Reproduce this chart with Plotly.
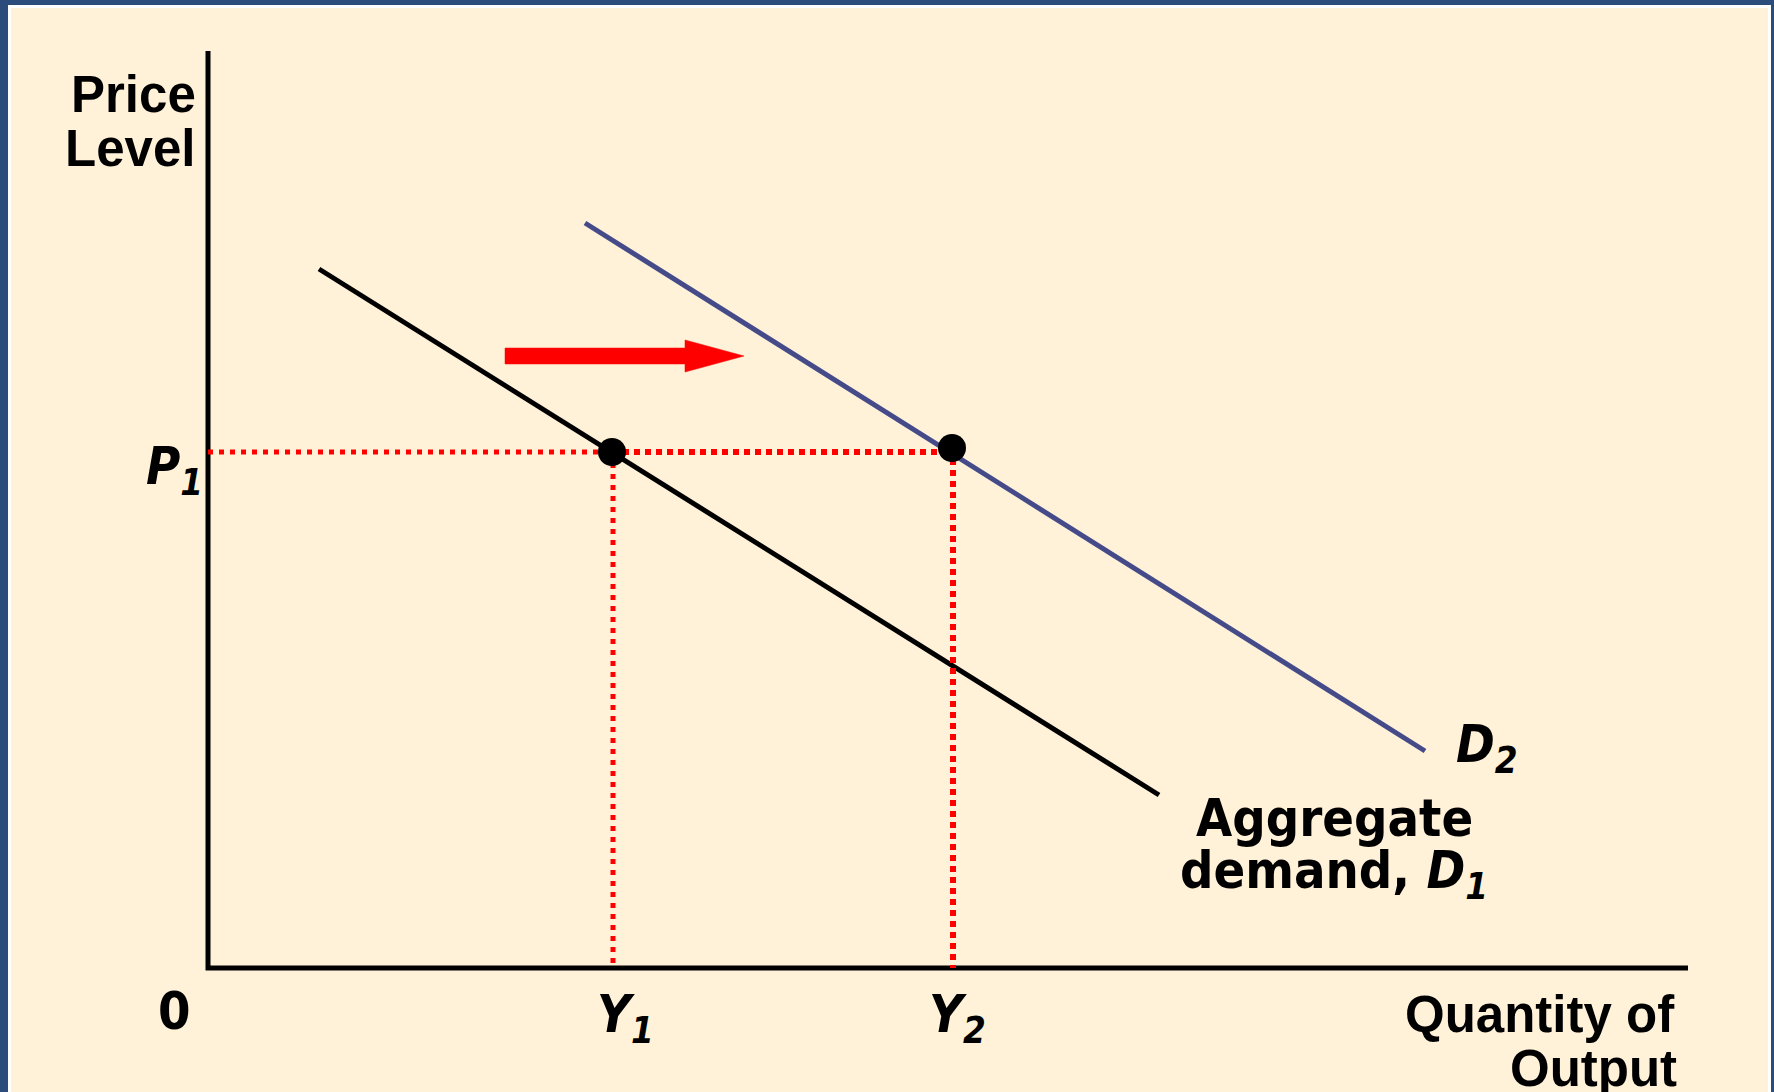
import plotly.graph_objects as go

# ---- data (chart units: 1 unit = 10 px, origin at the axes corner) ----
d1_x = [11.1, 95.1]
d1_y = [69.9, 17.3]
d2_x = [37.7, 121.7]
d2_y = [74.5, 21.7]
eq_x = [40.4, 74.4]
eq_y = [51.6, 52.0]
p1_level = 51.6
y1_level = 40.5
y2_level = 74.5
axis_x_max = 148.0
axis_y_max = 91.7
arrow_x = [29.7, 53.6]
arrow_y = 61.2

# ---- style ----
W, H = 1774, 1092
OX, OY, PX = 208, 968, 10.0
BLUE = "#2C4D7C"
CREAM = "#FFF2D9"
RED = "#FF0000"
D2C = "#454A89"
ARIAL = "Liberation Sans, Arial, sans-serif"
VERD = "DejaVu Sans Condensed, DejaVu Sans, Verdana, sans-serif"

fig = go.Figure()

# axes
fig.add_trace(go.Scatter(x=[0, 0, axis_x_max], y=[axis_y_max, 0, 0], mode="lines",
                         line=dict(color="black", width=5), hoverinfo="skip"))
# D1, D2
fig.add_trace(go.Scatter(x=d1_x, y=d1_y, mode="lines", line=dict(color="black", width=5)))
fig.add_trace(go.Scatter(x=d2_x, y=d2_y, mode="lines", line=dict(color=D2C, width=5)))

dot = "5px,6px"
sq = "6px,5px"
# dotted guides
fig.add_trace(go.Scatter(x=[0, eq_x[0]], y=[p1_level, p1_level], mode="lines",
                         line=dict(color=RED, width=5, dash=dot)))
fig.add_trace(go.Scatter(x=[eq_x[0], eq_x[1]], y=[p1_level, p1_level], mode="lines",
                         line=dict(color=RED, width=6, dash=sq)))
fig.add_trace(go.Scatter(x=[y1_level, y1_level], y=[eq_y[0], 0], mode="lines",
                         line=dict(color=RED, width=5, dash=dot)))
fig.add_trace(go.Scatter(x=[y2_level, y2_level], y=[eq_y[1], 0], mode="lines",
                         line=dict(color=RED, width=6, dash=sq)))

# equilibrium points
fig.add_trace(go.Scatter(x=eq_x, y=eq_y, mode="markers",
                         marker=dict(color="black", size=28, line=dict(width=0))))

# shift arrow (polygon built from arrow start/end)
shaft_half, head_half, head_len = 0.8, 1.6, 5.9
x0, x1 = arrow_x
xb = x1 - head_len
ax = [x0, xb, xb, x1, xb, xb, x0, x0]
ay = [arrow_y + shaft_half, arrow_y + shaft_half, arrow_y + head_half, arrow_y,
      arrow_y - head_half, arrow_y - shaft_half, arrow_y - shaft_half, arrow_y + shaft_half]
fig.add_trace(go.Scatter(x=ax, y=ay, mode="lines", fill="toself", fillcolor=RED,
                         line=dict(color=RED, width=0.5)))

def ann(text, x, y, xanchor, font, size, yanchor="middle"):
    fig.add_annotation(x=x, y=y, xref="x", yref="y", text=text, showarrow=False,
                       xanchor=xanchor, yanchor=yanchor, align=xanchor if xanchor != "center" else "center",
                       font=dict(family=font, size=size, color="black"))

ann("<b>Price</b>", -1.0, 87.4, "right", ARIAL, 51)
ann("<b>Level</b>", -1.1, 82.0, "right", ARIAL, 51)
ann("<b>Quantity of</b>", 146.9, -4.6, "right", ARIAL, 51)
ann("<b>Output</b>", 147.1, -10.0, "right", ARIAL, 51)
ann("<b>0</b>", -3.4, -4.3, "center", VERD, 52)
ann("<b><i>P<sub>1</sub></i></b>", -6.4, 49.8, "left", VERD, 52)
ann("<b><i>Y<sub>1</sub></i></b>", y1_level - 1.8, -5.0, "left", VERD, 52)
ann("<b><i>Y<sub>2</sub></i></b>", y2_level - 2.6, -5.0, "left", VERD, 52)
ann("<b><i>D<sub>2</sub></i></b>", 124.6, 22.0, "left", VERD, 52)
ann("<b>Aggregate</b>", 98.6, 15.05, "left", VERD, 52)
ann("<b>demand, <i>D<sub>1</sub></i></b>", 97.0, 9.4, "left", VERD, 52)

# frame: blue outer, white strip, cream panel
def prect(l, t, r, b, color):
    fig.add_shape(type="rect", xref="paper", yref="paper", layer="below",
                  x0=l / W, x1=r / W, y0=1 - b / H, y1=1 - t / H,
                  fillcolor=color, line=dict(width=0))

prect(8, 5, 1771, H + 5, "white")
prect(11, 8, 1768, H + 5, CREAM)

fig.update_layout(
    width=W, height=H, margin=dict(l=0, r=0, t=0, b=0),
    paper_bgcolor=BLUE, plot_bgcolor="rgba(0,0,0,0)", showlegend=False,
    xaxis=dict(range=[-OX / PX, (W - OX) / PX], visible=False, fixedrange=True),
    yaxis=dict(range=[-(H - OY) / PX, OY / PX], visible=False, fixedrange=True),
)
fig.write_html(
    "out.html",
    config={"displayModeBar": False},
    post_script="document.body.style.margin='0';document.body.style.overflow='hidden';",
)
